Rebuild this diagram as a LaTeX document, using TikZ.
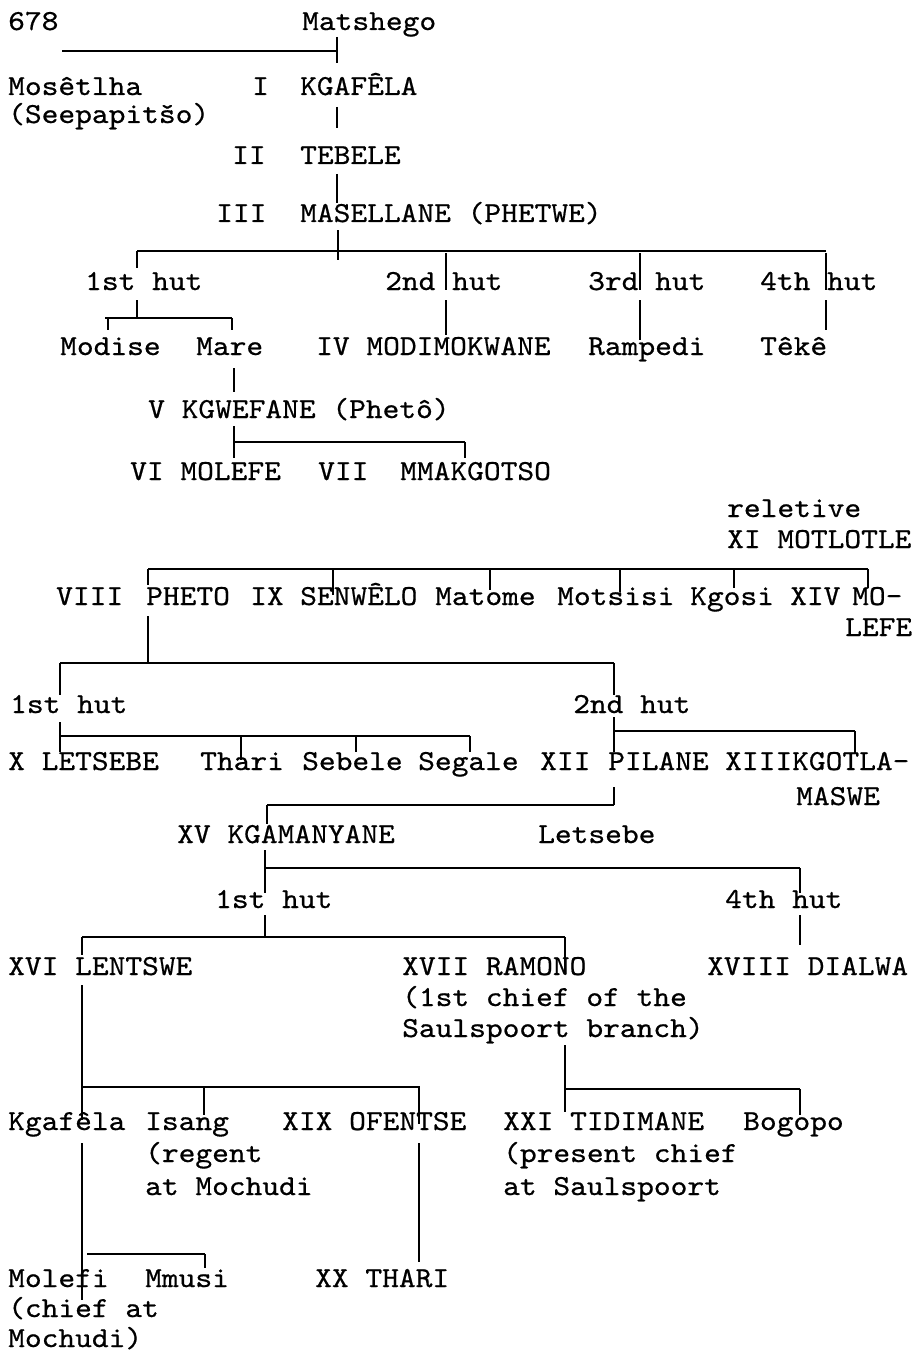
\documentclass[tikz,border=0pt]{standalone}
\usepackage{fontspec}
\newfontfamily\tw[FakeStretch=1.1,FakeBold=0.6]{lmmono10-regular.otf}
\begin{document}
\begin{tikzpicture}[x=1pt,y=-1pt,
  txt/.style={anchor=base west,inner sep=0pt,font=\tw\fontsize{29}{31}\selectfont},
  hl/.style={line width=1.6pt},
  vl/.style={line width=1.1pt}]
\useasboundingbox[fill=white] (0,0) rectangle (918,1351);
% ---- top ----
\node[txt] (p678) at (8,30) {678};
\node[txt] (matshego) at (302,30) {Matshego};
\node[txt] (mosetlha) at (8,95) {Mosêtlha};
\node[txt] (seepa) at (8,123) {(Seepapitšo)};
\node[txt] (rI) at (252,95) {I};
\node[txt] (kgafela) at (300,95) {KGAFÊLA};
\node[txt] (rII) at (232,164) {II};
\node[txt] (tebele) at (300,164) {TEBELE};
\node[txt] (rIII) at (216,222) {III};
\node[txt] (masellane) at (300,222) {MASELLANE (PHETWE)};
\draw[hl] (62,51) -- (337,51);
\draw[vl] (337,37) -- (337,63);
\draw[vl] (337,107) -- (337,128);
\draw[vl] (337,174) -- (337,203);
\draw[vl] (338,230) -- (338,260);
% ---- huts of Masellane ----
\node[txt] (hA1) at (85,290) {1st hut};
\node[txt] (hA2) at (385,290) {2nd hut};
\node[txt] (hA3) at (588,290) {3rd hut};
\node[txt] (hA4) at (760,290) {4th hut};
\draw[hl] (137,251) -- (826,251);
\draw[vl] (137,251) -- (137,268);
\draw[vl] (446,253) -- (446,290);
\draw[vl] (640,253) -- (640,290);
\draw[vl] (826,253) -- (826,290);
\node[txt] (modise) at (60,355) {Modise};
\node[txt] (mare) at (196,355) {Mare};
\node[txt] (modimokwane) at (316,355) {IV MODIMOKWANE};
\node[txt] (rampedi) at (588,355) {Rampedi};
\node[txt] (teke) at (760,355) {Têkê};
\draw[vl] (137,300) -- (137,318);
\draw[hl] (105,318) -- (232,318);
\draw[vl] (108,318) -- (108,330);
\draw[vl] (232,318) -- (232,330);
\draw[vl] (446,300) -- (446,335);
\draw[vl] (640,300) -- (640,340);
\draw[vl] (826,300) -- (826,330);
\node[txt] (kgwefane) at (148,418) {V KGWEFANE (Phetô)};
\draw[vl] (234,368) -- (234,392);
\draw[vl] (234,426) -- (234,458);
\draw[hl] (234,442) -- (465,442);
\draw[vl] (465,442) -- (465,458);
\node[txt] (molefe) at (130,480) {VI MOLEFE};
\node[txt] (rVII) at (318,480) {VII};
\node[txt] (mmakgotso) at (400,480) {MMAKGOTSO};
% ---- Motlotle ----
\node[txt] (reletive) at (727,517) {reletive};
\node[txt] (motlotle) at (727,548) {XI MOTLOTLE};
\draw[hl] (148,569) -- (868,569);
\draw[vl] (148,569) -- (148,585);
\draw[vl] (333,569) -- (333,595);
\draw[vl] (490,569) -- (490,590);
\draw[vl] (620,569) -- (620,592);
\draw[vl] (734,569) -- (734,588);
\draw[vl] (868,569) -- (868,588);
\node[txt] (rVIII) at (56,605) {VIII};
\node[txt] (pheto) at (146,605) {PHETO};
\node[txt] (rIX) at (250,605) {IX};
\node[txt] (senwelo) at (300,605) {SENWÊLO};
\node[txt] (matome) at (435,605) {Matome};
\node[txt] (motsisi) at (557,605) {Motsisi};
\node[txt] (kgosi) at (690,605) {Kgosi};
\node[txt] (rXIV) at (790,605) {XIV};
\node[txt] (mo) at (852,605) {MO-};
\node[txt] (lefe) at (845,636) {LEFE};
% ---- Pheto's huts ----
\draw[vl] (148,616) -- (148,663);
\draw[hl] (60,663) -- (614,663);
\draw[vl] (60,663) -- (60,695);
\draw[vl] (614,663) -- (614,695);
\node[txt] (hB1) at (10,713) {1st hut};
\node[txt] (hB2) at (573,713) {2nd hut};
\draw[vl] (60,722) -- (60,752);
\draw[hl] (60,736) -- (470,736);
\draw[vl] (241,736) -- (241,760);
\draw[vl] (356,736) -- (356,752);
\draw[vl] (470,736) -- (470,752);
\draw[vl] (614,717) -- (614,752);
\draw[hl] (614,731) -- (855,731);
\draw[vl] (855,731) -- (855,753);
\node[txt] (letsebeX) at (8,770) {X LETSEBE};
\node[txt] (thari) at (200,770) {Thari};
\node[txt] (sebele) at (302,770) {Sebele};
\node[txt] (segale) at (418,770) {Segale};
\node[txt] (rXII) at (540,770) {XII};
\node[txt] (pilane) at (608,770) {PILANE};
\node[txt] (kgotla) at (725,770) {XIIIKGOTLA-};
\node[txt] (maswe) at (796,805) {MASWE};
\draw[vl] (614,787) -- (614,805);
\draw[hl] (267,805) -- (614,805);
\draw[vl] (267,805) -- (267,824);
\node[txt] (kgamanyane) at (177,843) {XV KGAMANYANE};
\node[txt] (letsebe) at (538,843) {Letsebe};
% ---- Kgamanyane ----
\draw[vl] (265,850) -- (265,893);
\draw[hl] (265,868) -- (800,868);
\draw[vl] (800,868) -- (800,893);
\node[txt] (hC1) at (215,908) {1st hut};
\node[txt] (hC4) at (725,908) {4th hut};
\draw[vl] (265,915) -- (265,937);
\draw[hl] (82,937) -- (565,937);
\draw[vl] (82,937) -- (82,955);
\draw[vl] (565,937) -- (565,972);
\draw[vl] (800,915) -- (800,945);
\node[txt] (lentswe) at (8,975) {XVI LENTSWE};
\node[txt] (ramono) at (402,975) {XVII RAMONO};
\node[txt] (ramonoA) at (402,1006) {(1st chief of the};
\node[txt] (ramonoB) at (402,1037) {Saulspoort branch)};
\node[txt] (dialwa) at (707,975) {XVIII DIALWA};
% ---- Lentswe ----
\draw[vl] (82,985) -- (82,1120);
\draw[hl] (82,1087) -- (420,1087);
\draw[vl] (204,1087) -- (204,1115);
\draw[vl] (419,1087) -- (419,1124);
\draw[vl] (565,1045) -- (565,1112);
\draw[hl] (565,1089) -- (800,1089);
\draw[vl] (800,1089) -- (800,1115);
\node[txt] (kgafelaB) at (8,1130) {Kgafêla};
\node[txt] (isang) at (145,1130) {Isang};
\node[txt] (isangA) at (145,1162) {(regent};
\node[txt] (isangB) at (145,1195) {at Mochudi};
\node[txt] (ofentse) at (282,1130) {XIX OFENTSE};
\node[txt] (tidimane) at (503,1130) {XXI TIDIMANE};
\node[txt] (tidimaneA) at (503,1162) {(present chief};
\node[txt] (tidimaneB) at (503,1195) {at Saulspoort};
\node[txt] (bogopo) at (743,1130) {Bogopo};
\draw[vl] (82,1143) -- (82,1300);
\draw[hl] (87,1254) -- (205,1254);
\draw[vl] (205,1254) -- (205,1268);
\draw[vl] (419,1143) -- (419,1262);
\node[txt] (molefi) at (8,1287) {Molefi};
\node[txt] (mmusi) at (145,1287) {Mmusi};
\node[txt] (thariXX) at (315,1287) {XX THARI};
\node[txt] (molefiA) at (8,1317) {(chief at};
\node[txt] (molefiB) at (8,1347) {Mochudi)};
\end{tikzpicture}
\end{document}
